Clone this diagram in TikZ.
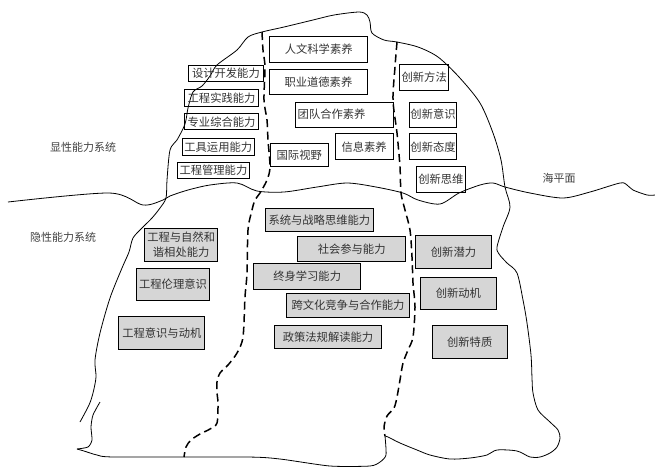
\documentclass[tikz,border=0pt]{standalone}
\usepackage{fontspec}
\newfontfamily\cjk{Noto Sans CJK SC}
\begin{document}
\begin{tikzpicture}[x=1pt,y=-1pt,
  tb/.style={draw=black, line width=0.8pt, anchor=north west, inner sep=0pt,
    font=\cjk\fontsize{11.3}{14.5}\selectfont, text=black!80, align=center},
  gb/.style={tb, fill=black!16, line width=1pt},
  lab/.style={font=\cjk\fontsize{11}{12}\selectfont, text=black!75},
  outl/.style={line width=0.8pt, line join=round},
  dsh/.style={line width=1.5pt, dash pattern=on 8pt off 4.5pt}]
\useasboundingbox (0,0) rectangle (655,467);

% outline: left contour, top, right contour, right lobe bottom
\draw[outl] plot[smooth, tension=0.5] coordinates {
 (80,422) (89,405) (93,393) (96,377) (95,360) (100,333) (110,298) (122,268)
 (129,252) (133,238) (142,228) (152,218) (160,208) (166,198) (167,180)
 (170,150) (177,140) (185,124) (188,108) (193,92) (202,86) (210,76) (217,65)
 (237,50) (248,37) (262,32) (284,27) (313,20) (334,15) (359,12) (367,15)
 (370,22) (372,33) (384,40) (397,42) (418,47) (438,57) (459,77) (480,103)
 (493,133) (501,160) (505,187) (510,207) (503,227) (497,247) (499,254)
 (507,263) (517,273) (523,300) (527,323) (531,355) (532,378) (533,393)
 (538,410) (550,422) (558,430) (560,438) (557,447) (550,453) (540,457)
 (530,457) (517,451) (497,450) (487,455) (470,458) (450,459) (430,455)
 (417,450) (400,443) (388,437) (385,436)};

% bottom left line
\draw[outl] plot[smooth, tension=0.4] coordinates {
 (100,402) (93,415) (91,427) (92,440) (88,447) (77,449)};
\draw[outl] plot[smooth, tension=0.4] coordinates {
 (77,449) (84,451) (97,455) (115,457) (247,457) (280,459) (330,466)
 (370,466) (380,462) (386,455) (385,436)};

% sea level line
\draw[outl] plot[smooth, tension=0.5] coordinates {
 (8,202) (109,193) (143,205) (163,200) (170,196) (188,190) (210,185)
 (237,183) (257,191) (284,192) (317,187) (347,183) (376,187) (403,193)
 (418,200) (440,204) (459,193) (480,185) (493,183) (505,187) (530,193)
 (563,198) (590,192) (620,183) (627,185) (633,190) (647,195) (655,195)};

% dashed dividers
\draw[dsh] plot[smooth, tension=0.5] coordinates {
 (262,32) (263,50) (265,67) (264,100) (267,120) (268,140) (270,167)
 (267,180) (260,193) (255,200) (252,210) (248,230) (247,273) (245,297)
 (243,337) (237,353) (228,365) (220,373) (217,382) (217,393) (218,403)
 (217,423) (210,429) (200,434) (191,440) (186,447) (184,457)};
\draw[dsh] plot[smooth, tension=0.5] coordinates {
 (397,42) (395,67) (393,100) (397,133) (400,167) (401,193) (405,210)
 (410,230) (412,257) (413,283) (415,307) (413,337) (408,350) (403,363)
 (400,380) (397,397) (394,408) (387,416) (384,427) (385,436)};

% labels
\node[lab] (xx) at (83,147) {显性能力系统};
\node[lab] (yx) at (63,237) {隐性能力系统};
\node[lab] (hpm) at (559,178) {海平面};

% upper boxes
\node[tb, minimum width=98, minimum height=25.7] (rwkx) at (269.3,36) {人文科学素养};
\node[tb, minimum width=98, minimum height=25.3] (zydd) at (269,69) {职业道德素养};
\node[tb, minimum height=25, text width=93.4, inner xsep=2pt, align=left] (tdhz) at (295.3,101.7) {团队合作素养};
\node[tb, minimum width=58, minimum height=26] (xxsy) at (334.7,133.3) {信息素养};
\node[tb, minimum width=57.7, minimum height=23.3] (gjsy) at (270,142.7) {国际视野};
\node[tb, minimum width=74.4, minimum height=15.7] (sjkf) at (188.3,65) {设计开发能力};
\node[tb, minimum width=74.3, minimum height=16.7] (gcsj) at (184,89.3) {工程实践能力};
\node[tb, minimum width=74.3, minimum height=16] (zyzh) at (184,113.3) {专业综合能力};
\node[tb, minimum width=72.3, minimum height=17.3] (gjyy) at (181.7,137.7) {工具运用能力};
\node[tb, minimum width=72.6, minimum height=16] (gcgl) at (176.7,161.7) {工程管理能力};
\node[tb, minimum width=49, minimum height=25.7] (cxff) at (399.3,64.3) {创新方法};
\node[tb, minimum width=46.7, minimum height=25] (cxys) at (409.3,101.7) {创新意识};
\node[tb, minimum width=46.7, minimum height=26] (cxtd) at (409.3,133.3) {创新态度};
\node[tb, minimum width=49, minimum height=25.7] (cxsw) at (416,166) {创新思维};

% lower boxes
\node[gb, minimum width=107.7, minimum height=23.3] (xtzl) at (265,207.7) {系统与战略思维能力};
\node[gb, minimum width=107.7, minimum height=25.3] (shcy) at (297.3,235.7) {社会参与能力};
\node[gb, minimum width=106.7, minimum height=25.4] (zsxx) at (253.3,263.3) {终身学习能力};
\node[gb, minimum width=123.6, minimum height=23.4] (kwh) at (285.7,293.3) {跨文化竞争与合作能力};
\node[gb, minimum width=107, minimum height=23.3] (zcfg) at (274,325) {政策法规解读能力};
\node[gb, minimum width=73.3, minimum height=33.3] (gczr) at (144,227.7) {工程与自然和\\谐相处能力};
\node[gb, minimum width=73.6, minimum height=32.6] (gcll) at (135.7,267.7) {工程伦理意识};
\node[gb, minimum width=86, minimum height=32.7] (gcys) at (118.3,316) {工程意识与动机};
\node[gb, minimum width=76, minimum height=32.7] (cxql) at (415,235) {创新潜力};
\node[gb, minimum width=75.7, minimum height=32.6] (cxdj) at (420,276.7) {创新动机};
\node[gb, minimum width=75, minimum height=33.3] (cxtz) at (431.7,325) {创新特质};
\end{tikzpicture}
\end{document}
